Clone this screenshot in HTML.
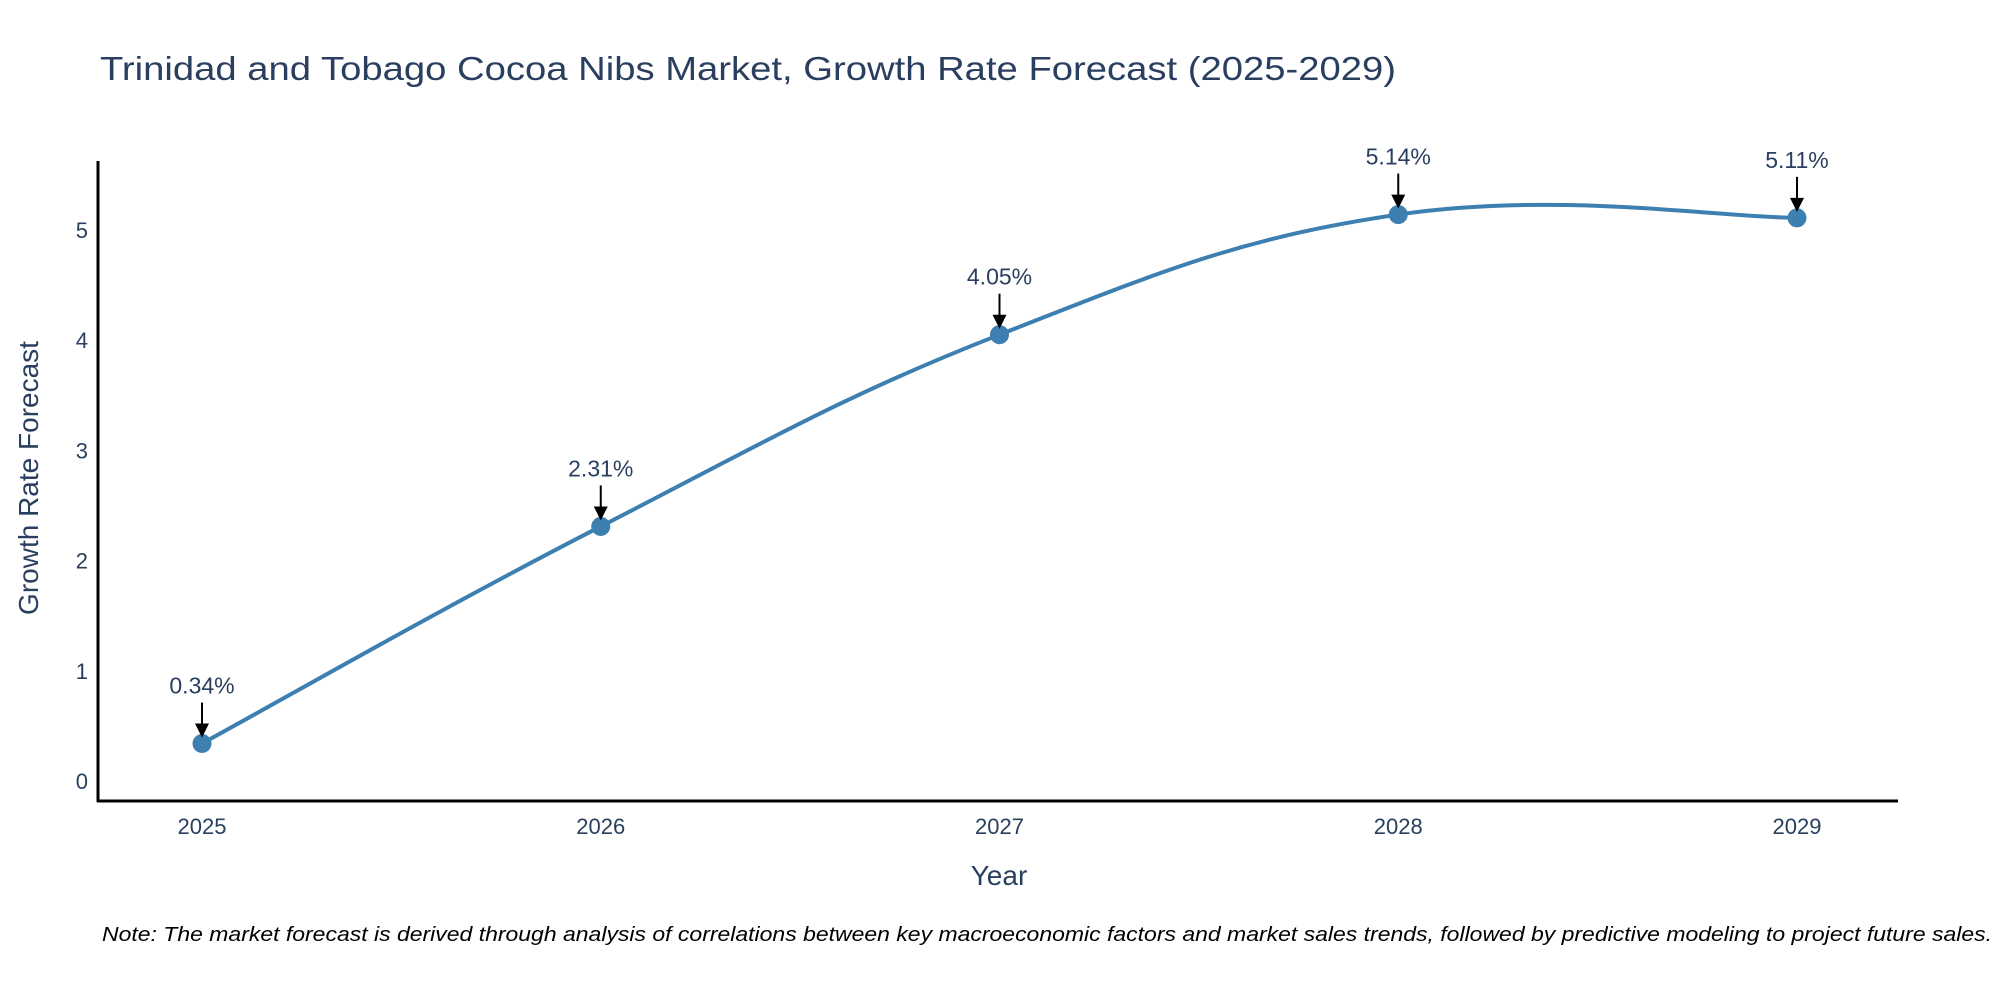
<!DOCTYPE html>
<html><head><meta charset="utf-8"><style>
body{margin:0;background:#fff;}
svg text{font-family:"Liberation Sans",sans-serif;}
</style></head><body>
<svg id="chart" width="2000" height="1000" viewBox="0 0 2000 1000" xmlns="http://www.w3.org/2000/svg">
<rect width="2000" height="1000" fill="#fff"/>
<text x="100" y="80" font-size="33" fill="#2a3f5f" textLength="1296" lengthAdjust="spacingAndGlyphs">Trinidad and Tobago Cocoa Nibs Market, Growth Rate Forecast (2025-2029)</text>
<g id="axes"></g>
<g id="series"></g>
<line x1="98" y1="161" x2="98" y2="802" stroke="#000" stroke-width="3"/>
<line x1="97" y1="801" x2="1898" y2="801" stroke="#000" stroke-width="3"/>
<text x="999" y="885" font-size="28" fill="#2a3f5f" text-anchor="middle">Year</text>
<text transform="translate(38,478) rotate(-90)" font-size="28" fill="#2a3f5f" text-anchor="middle">Growth Rate Forecast</text>
<text x="102" y="941" font-size="20" font-style="italic" fill="#000" textLength="1890" lengthAdjust="spacingAndGlyphs">Note: The market forecast is derived through analysis of correlations between key macroeconomic factors and market sales trends, followed by predictive modeling to project future sales.</text>
</svg>
<script>
const years = ["2025","2026","2027","2028","2029"];
const values = [0.34, 2.31, 4.05, 5.14, 5.11];
const valueLabels = ["0.34%","2.31%","4.05%","5.14%","5.11%"];
const yTicks = [0,1,2,3,4,5];

const NS = "http://www.w3.org/2000/svg";
const xPos = i => 202 + i * 398.75;
const yPos = v => 781 - v * 110.2;
function mk(tag, attrs, parent, txt){
  const e = document.createElementNS(NS, tag);
  for (const k in attrs) e.setAttribute(k, attrs[k]);
  if (txt !== undefined) e.textContent = txt;
  parent.appendChild(e);
  return e;
}
const axes = document.getElementById('axes');
const series = document.getElementById('series');
yTicks.forEach(t => {
  const el = mk('text', {x: 88, y: yPos(t) + 8, 'font-size': 22, fill: '#2a3f5f', 'text-anchor': 'end'}, axes, String(t));
  
  
});
years.forEach((yr, i) => {
  const el = mk('text', {x: xPos(i), y: 834, 'font-size': 22, fill: '#2a3f5f', 'text-anchor': 'middle'}, axes, yr);
  
  
});
// spline path (cardinal)
const pts = values.map((v, i) => [xPos(i), yPos(v)]);
let d = 'M' + pts[0][0] + ',' + pts[0][1];
const k = 0.2;
for (let i = 0; i < pts.length - 1; i++) {
  const p0 = pts[Math.max(i - 1, 0)], p1 = pts[i], p2 = pts[i + 1], p3 = pts[Math.min(i + 2, pts.length - 1)];
  const c1 = [p1[0] + (p2[0] - p0[0]) * k, p1[1] + (p2[1] - p0[1]) * k];
  const c2 = [p2[0] - (p3[0] - p1[0]) * k, p2[1] - (p3[1] - p1[1]) * k];
  d += ' C' + c1.join(',') + ' ' + c2.join(',') + ' ' + p2.join(',');
}
const line = mk('path', {d: d, fill: 'none', stroke: '#3d7fb0', 'stroke-width': 4}, series);


values.forEach((v, i) => {
  const x = xPos(i), y = yPos(v);
  const m = mk('circle', {cx: x, cy: y, r: 9.5, fill: '#3d7fb0'}, series);
  
  
  const a = mk('line', {x1: x, y1: y - 41, x2: x, y2: y - 18, stroke: '#000', 'stroke-width': 2}, series);
  
  
  const h = mk('polygon', {points: (x - 7) + ',' + (y - 20) + ' ' + (x + 7) + ',' + (y - 20) + ' ' + x + ',' + (y - 6)}, series);
  h.setAttribute('fill', '#000');
  
  
  const t = mk('text', {x: x, y: y - 50, 'font-size': 23, fill: '#2a3f5f', 'text-anchor': 'middle'}, series, valueLabels[i]);
  
  
});
</script>
</body></html>
